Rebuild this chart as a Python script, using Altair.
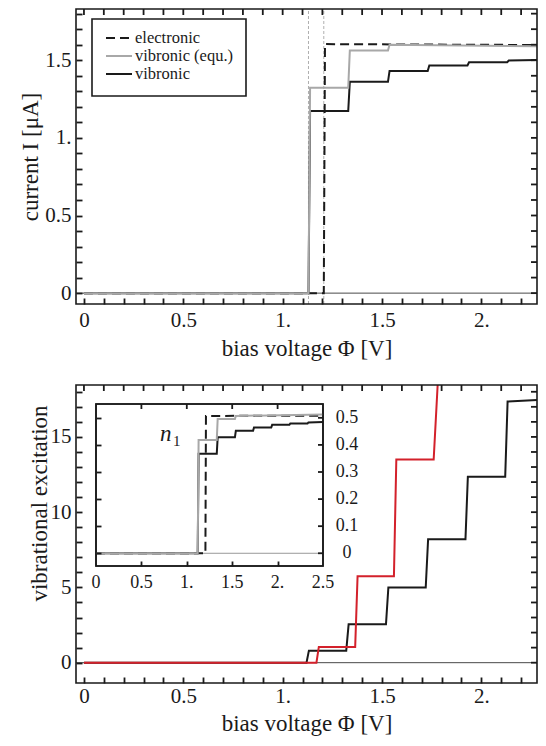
import altair as alt
import pandas as pd

FONT = "Liberation Serif"
BLACK = "#1a1a1a"
GRAY = "#a8a8a8"
RED = "#d3212b"

# ---------------- top panel: current ----------------
X_END = 2.28
vib_steps = [1.13, 1.33, 1.53, 1.73, 1.93, 2.13]
vib_levels = [0.0, 1.173, 1.361, 1.431, 1.466, 1.487, 1.498]
vib_end = 1.502
equ_steps = [1.13, 1.33, 1.53]
equ_levels = [0.0, 1.322, 1.562, 1.600]
equ_end = 1.590
el_steps = [1.207]
el_levels = [0.0, 1.604]
el_end = 1.598
guide_x = [1.13, 1.207]

# ---------------- bottom panel: vibrational excitation ----------------
exc_black_steps = [1.12, 1.32, 1.52, 1.72, 1.92, 2.12]
exc_black_levels = [0.0, 0.80, 2.55, 5.0, 8.2, 12.35, 17.35]
exc_black_end = 17.45
exc_red_steps = [1.17, 1.365, 1.56, 1.76]
exc_red_levels = [0.0, 1.05, 5.75, 13.5, 18.45]

# ---------------- inset: n1 ----------------
IN_X_END = 2.5
in_vib_steps = [1.12, 1.33, 1.53, 1.73, 1.93, 2.13, 2.33]
in_vib_levels = [0.0, 0.367, 0.428, 0.452, 0.464, 0.474, 0.479, 0.483]
in_vib_end = 0.485
in_equ_steps = [1.12, 1.33, 1.53]
in_equ_levels = [0.0, 0.418, 0.496, 0.507]
in_equ_end = 0.512
in_el_steps = [1.205]
in_el_levels = [0.0, 0.507]
in_el_end = 0.508

x_ticks = [round(i * 0.1, 1) for i in range(0, 23)]
top_y_ticks = [round(i * 0.1, 1) for i in range(0, 19)]
bot_y_ticks = list(range(0, 19))
in_x_vals = [0, 0.5, 1, 1.5, 2, 2.5]
in_x_text = ["0", "0.5", "1.", "1.5", "2.", "2.5"]
in_y_vals = [0, 0.1, 0.2, 0.3, 0.4, 0.5]
in_y_text = ["0", "0.1", "0.2", "0.3", "0.4", "0.5"]

legend_names = ["electronic", "vibronic (equ.)", "vibronic"]

# ---------------- layout (pixels inside one view) ----------------
PAD_L = 68
W = 461
T_TOP, T_BOT = 0, 295          # top panel frame
B_TOP, B_BOT = 376, 674        # bottom panel frame
H = B_BOT
TS = 6                         # tick length, main panels
TSI = 5                        # tick length, inset
TW = 1.8                       # tick width
XDOM = [-0.04, 2.28]
YDOM_T = [-0.07, 1.83]
YDOM_B = [-1.35, 18.45]
IN_L, IN_R = 20, 247
IN_T, IN_B = B_TOP + 19, B_TOP + 181
IN_XDOM = [0, IN_X_END]
IN_YDOM = [-0.047, 0.551]


def step_points(xs, levels, end_x, end_y, rise):
    rows = [dict(x=0.0, y=levels[0])]
    for i, s in enumerate(xs):
        r = rise[i] if isinstance(rise, list) else rise
        rows.append(dict(x=s, y=levels[i]))
        rows.append(dict(x=s + r, y=levels[i + 1]))
    if end_x is not None:
        rows.append(dict(x=end_x, y=end_y))
    for k, r in enumerate(rows):
        r["k"] = k
    return pd.DataFrame(rows)


DEC = ("round(datum.value*10) % 5 != 0 ? '' : (datum.value == 0 ? '0' : "
       "(round(datum.value*10) % 10 == 0 ? format(datum.value, 'd') + '.' : format(datum.value, '.1f')))")
INT5 = "datum.value % 5 != 0 ? '' : format(datum.value, 'd')"

TICK = dict(ticks=True, tickSize=TS, tickColor=BLACK, tickWidth=TW, domain=False, grid=False, zindex=1)


def x_axis(offset, title_y, label_pad):
    return alt.Axis(values=x_ticks, labelExpr=DEC, orient="bottom", offset=offset, **TICK,
                    labelFont=FONT, labelFontSize=21, labelColor=BLACK, labelPadding=label_pad,
                    labelBaseline="middle", labelFlush=False, labelOverlap=False,
                    title="bias voltage Φ [V]", titleFont=FONT, titleFontSize=23, titleFontWeight="normal",
                    titleColor=BLACK, titleY=title_y, titleBaseline="middle")


def y_axis(values, title, expr, title_x, title_y=None):
    kw = {}
    if title_y is not None:
        kw["titleY"] = title_y
    return alt.Axis(values=values, labelExpr=expr, orient="left", offset=-TS, **TICK,
                    labelFont=FONT, labelFontSize=21, labelColor=BLACK, labelPadding=5,
                    labelFlush=False, labelOverlap=False,
                    title=title, titleFont=FONT, titleFontSize=23, titleFontWeight="normal",
                    titleColor=BLACK, titleX=title_x, titleBaseline="middle", titleAngle=270, **kw)


def line(df, xs, ys, ax, ay, color, width=2, dash=None):
    kw = dict(color=color, strokeWidth=width, strokeJoin="miter")
    if dash:
        kw["strokeDash"] = dash
    return alt.Chart(df).mark_line(**kw).encode(
        x=alt.X("x:Q", scale=xs, axis=ax),
        y=alt.Y("y:Q", scale=ys, axis=ay),
        order="k:Q",
    )


def far_ticks(xs, ys, ax, ay, xdom, ydom, w, h, xvals, yvals, L):
    """Inward tick marks on the top and right edges, drawn as short two-point segments."""
    ux = (xdom[1] - xdom[0]) / w
    uy = (ydom[1] - ydom[0]) / h
    rows = []
    tid = 0
    for v in xvals:
        rows.append(dict(id=tid, k=0, x=v, y=ydom[1]))
        rows.append(dict(id=tid, k=1, x=v, y=ydom[1] - L * uy))
        tid += 1
    for v in yvals:
        rows.append(dict(id=tid, k=0, x=xdom[1], y=v))
        rows.append(dict(id=tid, k=1, x=xdom[1] - L * ux, y=v))
        tid += 1
    df = pd.DataFrame(rows)
    return alt.Chart(df).mark_line(color=BLACK, strokeWidth=TW, strokeCap="butt").encode(
        x=alt.X("x:Q", scale=xs, axis=ax), y=alt.Y("y:Q", scale=ys, axis=ay),
        detail="id:N", order="k:Q")


def frame(x0, x1, y0, y1, fill=None):
    kw = dict(stroke=BLACK, strokeWidth=1.6)
    if fill:
        kw["fill"] = fill
    else:
        kw["fillOpacity"] = 0
    return alt.Chart(one).mark_rect(**kw).encode(
        x=alt.value(x0), x2=alt.value(x1), y=alt.value(y0), y2=alt.value(y1))


one = pd.DataFrame({"a": [0]})

# ---------------- top panel ----------------
xs_t = alt.Scale(domain=XDOM, nice=False, zero=False)
ys_t = alt.Scale(domain=YDOM_T, range=[T_BOT, T_TOP], nice=False, zero=False)
ax_t = x_axis(-(H - T_BOT) - TS, 44 + TS, 16)
ay_t = y_axis(top_y_ticks, "current I [μA]", DEC, -46 - TS)

top_layers = [
    alt.Chart(pd.DataFrame({"y": [0.0]})).mark_rule(color=BLACK, strokeWidth=0.8).encode(
        y=alt.Y("y:Q", scale=ys_t, axis=ay_t)),
    alt.Chart(pd.DataFrame({"x": guide_x, "y0": [YDOM_T[0]] * 2, "y1": [YDOM_T[1]] * 2})).mark_rule(
        color="#9a9a9a", strokeWidth=0.8, strokeDash=[3, 2]).encode(
        x=alt.X("x:Q", scale=xs_t, axis=ax_t), y=alt.Y("y0:Q", scale=ys_t, axis=ay_t), y2="y1:Q"),
    line(step_points(el_steps, el_levels, X_END, el_end, 0.006), xs_t, ys_t, ax_t, ay_t, BLACK, 2, [9, 5]),
    line(step_points(vib_steps, vib_levels, X_END, vib_end, 0.008), xs_t, ys_t, ax_t, ay_t, BLACK, 2),
    line(step_points(equ_steps, equ_levels, X_END, equ_end, 0.008), xs_t, ys_t, ax_t, ay_t, GRAY, 2),
    far_ticks(xs_t, ys_t, ax_t, ay_t, XDOM, YDOM_T, W, T_BOT - T_TOP, x_ticks, top_y_ticks, TS),
    frame(0, W, T_TOP, T_BOT),
]

# legend
LX0, LX1, LY0, LY1 = 16, 170, 10, 87
top_layers.append(frame(LX0, LX1, LY0, LY1, fill="white"))
leg_styles = [(BLACK, [9, 5]), (GRAY, None), (BLACK, None)]
for i, (name, (col, dash)) in enumerate(zip(legend_names, leg_styles)):
    yy = 29 + 18 * i
    kw = dict(color=col, strokeWidth=2)
    if dash:
        kw["strokeDash"] = dash
    top_layers.append(alt.Chart(one).mark_rule(**kw).encode(
        x=alt.value(30), x2=alt.value(56), y=alt.value(yy)))
    top_layers.append(alt.Chart(one).mark_text(text=name, align="left", baseline="middle", font=FONT,
                                               fontSize=16.5, color=BLACK).encode(
        x=alt.value(59), y=alt.value(yy)))
top_group = alt.layer(*top_layers)

# ---------------- bottom panel ----------------
xs_b = alt.Scale(domain=XDOM, nice=False, zero=False)
ys_b = alt.Scale(domain=YDOM_B, range=[B_BOT, B_TOP], nice=False, zero=False)
ax_b = x_axis(-TS, 40 + TS, 13)
ay_b = y_axis(bot_y_ticks, "vibrational excitation", INT5, -37 - TS, 494)

main_layers = [
    alt.Chart(pd.DataFrame({"y": [0.0]})).mark_rule(color=BLACK, strokeWidth=0.8).encode(
        y=alt.Y("y:Q", scale=ys_b, axis=ay_b)),
    line(step_points(exc_black_steps, exc_black_levels, X_END, exc_black_end, 0.012), xs_b, ys_b, ax_b, ay_b,
         BLACK, 2),
    line(step_points(exc_red_steps, exc_red_levels, None, None, [0.012, 0.012, 0.012, 0.02]), xs_b, ys_b,
         ax_b, ay_b, RED, 2),
    far_ticks(xs_b, ys_b, ax_b, ay_b, XDOM, YDOM_B, W, B_BOT - B_TOP, x_ticks, bot_y_ticks, TS),
    frame(0, W, B_TOP, B_BOT),
]
bottom_group = alt.layer(*main_layers)

# ---------------- inset ----------------
ixs = alt.Scale(domain=IN_XDOM, range=[IN_L, IN_R], nice=False, zero=False)
iys = alt.Scale(domain=IN_YDOM, range=[IN_B, IN_T], nice=False, zero=False)
ITICK = dict(ticks=True, tickSize=TSI, tickColor=BLACK, tickWidth=TW, domain=False, grid=False,
             labels=False, title=None, zindex=1)
ax_i = alt.Axis(orient="bottom", offset=-(H - IN_B) - TSI, values=in_x_vals[1:-1], **ITICK)
ay_i = alt.Axis(orient="left", offset=-(IN_L + TSI), values=in_y_vals, **ITICK)

inset_layers = [
    frame(IN_L, IN_R, IN_T, IN_B, fill="white"),
    alt.Chart(pd.DataFrame({"x": [0.0], "x2": [IN_X_END], "y": [0.0]})).mark_rule(color="#999999", strokeWidth=1).encode(
        x=alt.X("x:Q", scale=ixs, axis=ax_i), x2="x2:Q", y=alt.Y("y:Q", scale=iys, axis=ay_i)),
    line(step_points(in_el_steps, in_el_levels, IN_X_END, in_el_end, 0.006), ixs, iys, ax_i, ay_i, BLACK, 2, [9, 5]),
    line(step_points(in_vib_steps, in_vib_levels, IN_X_END, in_vib_end, 0.01), ixs, iys, ax_i, ay_i, BLACK, 2),
    line(step_points(in_equ_steps, in_equ_levels, IN_X_END, in_equ_end, 0.01), ixs, iys, ax_i, ay_i, GRAY, 2),
    far_ticks(ixs, iys, ax_i, ay_i, IN_XDOM, IN_YDOM, IN_R - IN_L, IN_B - IN_T, in_x_vals[1:-1], in_y_vals, TSI),
    frame(IN_L, IN_R, IN_T, IN_B),
    alt.Chart(pd.DataFrame({"v": in_x_vals, "t": in_x_text})).mark_text(
        font=FONT, fontSize=18, color=BLACK, align="center", baseline="middle").encode(
        x=alt.X("v:Q", scale=ixs, axis=ax_i), y=alt.value(IN_B + 17), text="t:N"),
    alt.Chart(pd.DataFrame({"v": in_y_vals, "t": in_y_text})).mark_text(
        font=FONT, fontSize=18, color=BLACK, align="center", baseline="middle").encode(
        y=alt.Y("v:Q", scale=iys, axis=ay_i), x=alt.value(IN_R + 24), text="t:N"),
    alt.Chart(one).mark_text(text="n", font=FONT, fontSize=23, fontStyle="italic",
                             color=BLACK, align="left", baseline="alphabetic").encode(
        x=alt.value(84), y=alt.value(IN_T + 37)),
    alt.Chart(one).mark_text(text="1", font=FONT, fontSize=15, color=BLACK,
                             align="left", baseline="alphabetic").encode(
        x=alt.value(97), y=alt.value(IN_T + 42)),
]
inset_group = alt.layer(*inset_layers)

chart = alt.layer(top_group, bottom_group, inset_group).resolve_scale(
    x="independent", y="independent").properties(
    width=W, height=H,
    autosize=alt.AutoSizeParams(type="none"),
    padding={"left": PAD_L, "top": 1, "right": 1, "bottom": 54},
).configure(background="white").configure_view(stroke="transparent", strokeWidth=0)

chart.save("out.html", embed_options={"renderer": "svg", "actions": False})
